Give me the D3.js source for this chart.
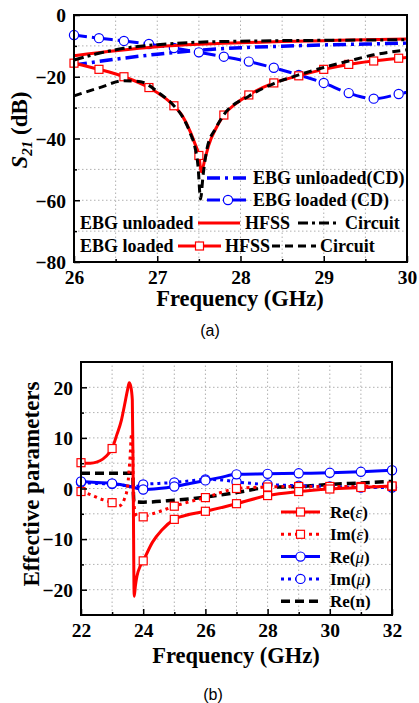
<!DOCTYPE html>
<html>
<head>
<meta charset="utf-8">
<script src="https://cdn.jsdelivr.net/npm/d3@7"></script>
<style>
  body { margin: 0; background: #fff; }
  svg { display: block; }
  text { font-family: "Liberation Serif", "Times New Roman", serif; font-weight: bold; fill: #000; }
  .caption { font-family: "Liberation Sans", Arial, sans-serif; font-weight: normal; }
</style>
</head>
<body>
<svg id="chart" width="419" height="703"></svg>
<script>
// ---------- Panel (a): S21 of the EBG structure ----------
const markerFreqsA = [26.0, 26.3, 26.6, 26.9, 27.2, 27.5, 27.8, 28.1, 28.4, 28.7, 29.0, 29.3, 29.6, 29.9];
const xTicksA = [26, 27, 28, 29, 30];
const yTicksA = [0, -20, -40, -60, -80];

const unloadedHfssFreq = [26, 26.5, 27, 27.5, 28, 28.5, 29, 29.5, 30];
const unloadedHfssDb   = [-13.2, -11.6, -10.3, -9.5, -9.0, -8.6, -8.3, -8.0, -7.8];

const unloadedCircuitFreq = [26, 26.3, 26.6, 27, 27.5, 28, 28.5, 29, 29.5, 30];
const unloadedCircuitDb   = [-14.6, -12.4, -10.8, -9.6, -8.8, -8.5, -8.3, -8.2, -8.1, -8.0];

const unloadedCdFreq = [26, 26.5, 27, 27.5, 28, 28.5, 29, 29.5, 30];
const unloadedCdDb   = [-16.2, -14.3, -12.7, -11.4, -10.6, -10.1, -9.7, -9.4, -9.1];

const loadedCdFreq = [26, 26.3, 26.6, 26.9, 27.2, 27.5, 27.8, 28.1, 28.4, 28.7, 29.0, 29.3, 29.6, 29.9, 30];
const loadedCdDb   = [-6.5, -7.5, -8.4, -9.4, -10.7, -12.1, -13.5, -15.1, -17.1, -19.4, -22.0, -25.3, -27.1, -25.6, -25.0];

const loadedHfssFreq = [26, 26.3, 26.6, 26.9, 27.2, 27.3, 27.4, 27.45, 27.5, 27.53, 27.57, 27.62, 27.7, 27.8, 27.95, 28.1, 28.4, 28.7, 29.0, 29.3, 29.6, 29.9, 30];
const loadedHfssDb   = [-15.6, -17.6, -20.0, -23.5, -29.4, -32.6, -38.0, -41.5, -45.5, -50.8, -47.0, -42.0, -37.0, -32.4, -28.6, -25.9, -22.0, -19.7, -17.6, -16.0, -14.9, -14.0, -13.8];

const loadedCircuitFreq = [26, 26.3, 26.6, 26.8, 26.9, 27.0, 27.2, 27.3, 27.4, 27.45, 27.49, 27.52, 27.55, 27.6, 27.7, 27.8, 28.1, 28.4, 28.7, 29.0, 29.3, 29.6, 30];
const loadedCircuitDb   = [-26.2, -23.6, -21.3, -21.6, -22.8, -24.8, -29.4, -32.8, -38.5, -42.5, -49.0, -59.6, -52.0, -43.0, -36.8, -32.3, -26.3, -22.2, -19.4, -17.0, -14.9, -12.9, -11.3];

// ---------- Panel (b): retrieved effective parameters ----------
const markerFreqsB = [22, 23, 24, 25, 26, 27, 28, 29, 30, 31, 32];
const xTicksB = [22, 24, 26, 28, 30, 32];
const yTicksB = [20, 10, 0, -10, -20];

const reEpsFreq = [22, 22.3, 22.5, 22.7, 22.9, 23, 23.15, 23.3, 23.4, 23.5, 23.55, 23.6, 23.65, 23.68, 23.71, 23.75, 23.8, 23.9, 24, 24.3, 24.6, 25, 25.5, 26, 27, 28, 29, 30, 31, 32];
const reEpsVal  = [5.1, 5.0, 5.2, 5.8, 7.0, 7.9, 10.6, 13.5, 16.5, 19.6, 20.9, 20.2, 17.5, 0.0, -21.3, -19.2, -17.3, -15.4, -14.3, -10.6, -8.2, -6.1, -5.1, -4.5, -3.0, -1.4, -0.6, -0.1, 0.2, 0.5];

const imEpsFreq = [22, 22.3, 22.6, 22.9, 23, 23.15, 23.3, 23.4, 23.5, 23.57, 23.63, 23.66, 23.69, 23.75, 23.85, 24, 24.5, 25, 25.5, 26, 26.5, 27, 28, 29, 30, 31, 32];
const imEpsVal  = [-0.6, -1.2, -2.0, -2.6, -2.8, -3.6, -3.2, -2.0, 0.5, 5.5, 10.8, 8.0, -2.0, -5.0, -5.9, -5.6, -4.6, -3.5, -2.6, -1.8, -0.8, 0.0, 0.3, 0.4, 0.4, 0.4, 0.4];

const reMuFreq = [22, 22.5, 23, 23.5, 23.7, 24, 24.5, 25, 25.5, 26, 26.5, 27, 28, 29, 30, 31, 32];
const reMuVal  = [1.4, 1.2, 1.0, 0.5, 0.2, -0.2, 0.0, 0.4, 1.0, 1.6, 2.2, 2.8, 2.9, 3.0, 3.1, 3.3, 3.6];

const imMuFreq = [22, 22.5, 23, 23.5, 23.7, 24, 24.5, 25, 25.5, 26, 26.5, 27, 27.5, 28, 29, 30, 31, 32];
const imMuVal  = [1.2, 1.0, 0.9, 0.5, 0.3, 0.8, 1.0, 1.2, 1.5, 1.8, 1.7, 1.3, 1.0, 0.8, 0.55, 0.4, 0.2, 0.2];

const reNFreq = [22, 23, 23.5, 23.66, 23.7, 24, 25, 26, 27, 28, 29, 30, 31, 32];
const reNVal  = [3.0, 3.0, 3.0, 3.0, -2.6, -2.7, -2.3, -1.7, -0.8, 0.2, 0.4, 0.8, 1.1, 1.4];

const RED = "#ff0000", BLUE = "#0000ff", BLACK = "#000000";

const svg = d3.select("#chart");

function zip(fs, vs) { return fs.map((f, i) => ({ f, v: vs[i] })); }
function isMarker(list, f) { return list.some(m => Math.abs(m - f) < 1e-6); }

function drawGrid(g, x, y, opt) {
  const [x0, x1] = x.range(), [y0, y1] = y.range();
  const grid = g.append("g");
  opt.gridX.forEach(t => {
    grid.append("line").attr("x1", x(t)).attr("x2", x(t)).attr("y1", y0).attr("y2", y1)
      .attr("stroke", "#b0b0b0").attr("stroke-width", 1).attr("stroke-dasharray", "1.5,2.5");
  });
  opt.gridY.forEach(t => {
    grid.append("line").attr("x1", x0).attr("x2", x1).attr("y1", y(t)).attr("y2", y(t))
      .attr("stroke", "#b0b0b0").attr("stroke-width", 1).attr("stroke-dasharray", "1.5,2.5");
  });
}

function drawAxes(g, x, y, opt) {
  const [x0, x1] = x.range(), [y0, y1] = y.range();
  // inward ticks on bottom and left
  const xAxis = d3.axisBottom(x).tickValues(opt.xTicks).tickSize(-6).tickPadding(8).tickFormat(d3.format("d"));
  g.append("g").attr("transform", `translate(0,${y0})`).call(xAxis);
  const xMinor = d3.axisBottom(x).tickValues(opt.xMinor).tickSize(-3).tickFormat("");
  g.append("g").attr("transform", `translate(0,${y0})`).call(xMinor);
  const yAxis = d3.axisLeft(y).tickValues(opt.yTicks).tickSize(-6).tickPadding(8).tickFormat(d3.format("d"));
  const gy = g.append("g").attr("transform", `translate(${x0},0)`).call(yAxis);
  const yMinor = d3.axisLeft(y).tickValues(opt.yMinor).tickSize(-3).tickFormat("");
  g.append("g").attr("transform", `translate(${x0},0)`).call(yMinor);
  g.selectAll(".domain").remove();
  g.selectAll(".tick line").attr("stroke", "#000").attr("stroke-width", 1.5);
  g.selectAll(".tick text").attr("font-size", 19.5).attr("font-family", '"Liberation Serif","Times New Roman",serif').attr("font-weight", "bold").attr("fill", "#000");
  gy.selectAll(".tick text").attr("dy", "0.35em");
  // frame
  g.append("rect").attr("x", x0).attr("y", y1).attr("width", x1 - x0).attr("height", y0 - y1)
    .attr("fill", "none").attr("stroke", "#000").attr("stroke-width", 2);
}

function drawSeries(g, x, y, data, s, markers) {
  const line = d3.line().x(d => x(d.f)).y(d => y(d.v)).curve(d3.curveMonotoneX);
  g.append("path").datum(data).attr("d", line).attr("fill", "none")
    .attr("stroke", s.color).attr("stroke-width", s.width)
    .attr("stroke-dasharray", s.dash || null).attr("stroke-linejoin", "round");
  if (s.marker) {
    const pts = data.filter(d => isMarker(markers, d.f));
    drawMarkers(g, pts.map(d => [x(d.f), y(d.v)]), s);
  }
}

function drawMarkers(g, pts, s) {
  pts.forEach(([px, py]) => {
    if (s.marker === "square") {
      g.append("rect").attr("x", px - 4).attr("y", py - 4).attr("width", 8).attr("height", 8)
        .attr("fill", "#fff").attr("stroke", s.color).attr("stroke-width", 1.2);
    } else {
      g.append("circle").attr("cx", px).attr("cy", py).attr("r", 4.6)
        .attr("fill", "#fff").attr("stroke", s.color).attr("stroke-width", 1.2);
    }
  });
}

function legendLine(g, xa, xb, yy, s) {
  g.append("line").attr("x1", xa).attr("x2", xb).attr("y1", yy).attr("y2", yy)
    .attr("stroke", s.color).attr("stroke-width", s.width).attr("stroke-dasharray", s.dash || null);
  if (s.marker) drawMarkers(g, [[(xa + xb) / 2, yy]], s);
}

// ===== Panel (a) =====
const xA = d3.scaleLinear().domain([26, 30]).range([74, 407]);
const yA = d3.scaleLinear().domain([-80, 0]).range([262, 15]);
const gA = svg.append("g");
drawGrid(gA, xA, yA, {
  gridX: d3.range(26.5, 30, 0.5),
  gridY: d3.range(-70, 0, 10)
});

const stylesA = {
  unloadedCd:      { color: BLUE,  width: 3.5, dash: "13,5,3,5" },
  loadedCd:        { color: BLUE,  width: 3,   dash: "13,5,3,5", marker: "circle" },
  unloadedHfss:    { color: RED,   width: 3 },
  unloadedCircuit: { color: BLACK, width: 3,   dash: "10,4,3,4" },
  loadedHfss:      { color: RED,   width: 3,   marker: "square" },
  loadedCircuit:   { color: BLACK, width: 3,   dash: "8,5" }
};

drawSeries(gA, xA, yA, zip(unloadedCdFreq, unloadedCdDb), stylesA.unloadedCd, markerFreqsA);
drawSeries(gA, xA, yA, zip(loadedCdFreq, loadedCdDb), stylesA.loadedCd, markerFreqsA);
drawSeries(gA, xA, yA, zip(unloadedHfssFreq, unloadedHfssDb), stylesA.unloadedHfss, markerFreqsA);
drawSeries(gA, xA, yA, zip(loadedHfssFreq, loadedHfssDb), stylesA.loadedHfss, markerFreqsA);
drawSeries(gA, xA, yA, zip(unloadedCircuitFreq, unloadedCircuitDb), stylesA.unloadedCircuit, markerFreqsA);
drawSeries(gA, xA, yA, zip(loadedCircuitFreq, loadedCircuitDb), stylesA.loadedCircuit, markerFreqsA);

drawAxes(gA, xA, yA, {
  xTicks: xTicksA, xMinor: [26.5, 27.5, 28.5, 29.5],
  yTicks: yTicksA, yMinor: [-10, -30, -50, -70]
});

// legend (a)
const legA = gA.append("g").attr("font-size", 18);
legendLine(legA, 207, 249, 178, stylesA.unloadedCd);
legA.append("text").attr("x", 253).attr("y", 184).text("EBG unloaded(CD)");
legendLine(legA, 207, 249, 200, stylesA.loadedCd);
legA.append("text").attr("x", 253).attr("y", 206).text("EBG loaded (CD)");
legA.append("text").attr("x", 80).attr("y", 229).text("EBG unloaded");
legendLine(legA, 198, 240, 223, stylesA.unloadedHfss);
legA.append("text").attr("x", 245).attr("y", 229).text("HFSS");
legendLine(legA, 298, 339, 223, stylesA.unloadedCircuit);
legA.append("text").attr("x", 345).attr("y", 229).text("Circuit");
legA.append("text").attr("x", 80).attr("y", 252).text("EBG loaded");
legendLine(legA, 178, 221, 246, stylesA.loadedHfss);
legA.append("text").attr("x", 225).attr("y", 252).text("HFSS");
legendLine(legA, 272, 316, 246, stylesA.loadedCircuit);
legA.append("text").attr("x", 320).attr("y", 252).text("Circuit");

// axis titles (a)
svg.append("text").attr("x", 240).attr("y", 306).attr("text-anchor", "middle").attr("font-size", 22.5)
  .text("Frequency (GHz)");
const ytA = svg.append("text").attr("transform", "translate(27,130) rotate(-90)")
  .attr("text-anchor", "middle").attr("font-size", 23);
ytA.append("tspan").attr("font-style", "italic").text("S");
ytA.append("tspan").attr("font-style", "italic").attr("font-size", 15).attr("dy", 5).text("21");
ytA.append("tspan").attr("dy", -5).text(" (dB)");
svg.append("text").attr("class", "caption").attr("x", 210).attr("y", 336).attr("text-anchor", "middle")
  .attr("font-size", 16).text("(a)");

// ===== Panel (b) =====
const xB = d3.scaleLinear().domain([22, 32]).range([81, 392]);
const yB = d3.scaleLinear().domain([-25, 25]).range([615, 362]);
const gB = svg.append("g");
drawGrid(gB, xB, yB, {
  gridX: d3.range(23, 32, 1),
  gridY: d3.range(-20, 25, 5)
});

const stylesB = {
  reEps: { color: RED,   width: 3, marker: "square" },
  imEps: { color: RED,   width: 3, dash: "3,4", marker: "square" },
  reMu:  { color: BLUE,  width: 3, marker: "circle" },
  imMu:  { color: BLUE,  width: 3, dash: "3,4", marker: "circle" },
  reN:   { color: BLACK, width: 3.5, dash: "9,5" }
};

drawSeries(gB, xB, yB, zip(reNFreq, reNVal), stylesB.reN, markerFreqsB);
drawSeries(gB, xB, yB, zip(imMuFreq, imMuVal), stylesB.imMu, markerFreqsB);
drawSeries(gB, xB, yB, zip(reMuFreq, reMuVal), stylesB.reMu, markerFreqsB);
drawSeries(gB, xB, yB, zip(imEpsFreq, imEpsVal), stylesB.imEps, markerFreqsB);
drawSeries(gB, xB, yB, zip(reEpsFreq, reEpsVal), stylesB.reEps, markerFreqsB);

drawAxes(gB, xB, yB, {
  xTicks: xTicksB, xMinor: [23, 25, 27, 29, 31],
  yTicks: yTicksB, yMinor: [15, 5, -5, -15]
});

// legend (b)
const legB = gB.append("g").attr("font-size", 17);
const legendItemsB = [
  { key: "reEps", label: ["Re(", "ε", ")"] },
  { key: "imEps", label: ["Im(", "ε", ")"] },
  { key: "reMu",  label: ["Re(", "μ", ")"] },
  { key: "imMu",  label: ["Im(", "μ", ")"] },
  { key: "reN",   label: ["Re(", "n", ")"] }
];
legendItemsB.forEach((it, i) => {
  const yy = 512 + i * 22.3;
  legendLine(legB, 281, 320, yy, stylesB[it.key]);
  const t = legB.append("text").attr("x", 330).attr("y", yy + 6);
  t.append("tspan").text(it.label[0]);
  t.append("tspan").attr("font-style", it.key === "reN" ? null : "italic")
    .attr("font-weight", it.key === "reN" ? "bold" : "normal").text(it.label[1]);
  t.append("tspan").text(it.label[2]);
});

// axis titles (b)
svg.append("text").attr("x", 236).attr("y", 663).attr("text-anchor", "middle").attr("font-size", 22.5)
  .text("Frequency (GHz)");
svg.append("text").attr("transform", "translate(39,484) rotate(-90)")
  .attr("text-anchor", "middle").attr("font-size", 23).text("Effective parameters");
svg.append("text").attr("class", "caption").attr("x", 213).attr("y", 700).attr("text-anchor", "middle")
  .attr("font-size", 16).text("(b)");
</script>
</body>
</html>
